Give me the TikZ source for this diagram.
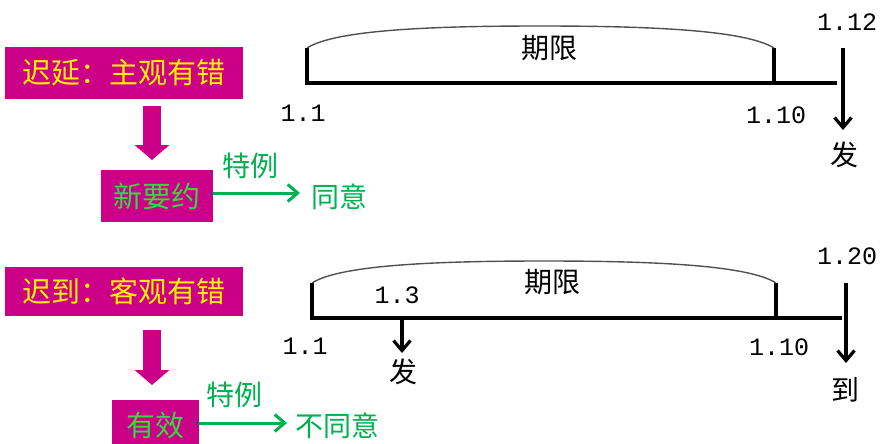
\documentclass[tikz,border=0pt]{standalone}
\usepackage{fontspec}
\newfontfamily\cjk{Noto Sans CJK SC}
\newfontfamily\mono{Liberation Mono}
\usetikzlibrary{arrows.meta}
\definecolor{mag}{RGB}{204,0,136}
\definecolor{yel}{RGB}{255,240,0}
\definecolor{boxgreen}{RGB}{50,220,60}
\definecolor{grn}{RGB}{0,176,80}
\definecolor{arcgray}{RGB}{80,80,80}
\tikzset{
  magbox/.style={fill=mag, draw=none, inner sep=0pt, font=\cjk\fontsize{29}{30}\selectfont},
  magarrow/.style={draw=mag, line width=18pt, -{Triangle[width=34pt,length=15pt]}},
  garrow/.style={draw=grn, line width=3pt, -{Straight Barb[length=10pt,width=17pt,line width=3pt]}},
  barrow/.style={draw=black, line width=3.2pt, -{Straight Barb[length=10pt,width=17pt,line width=3.2pt]}},
  axis/.style={draw=black, line width=3.2pt},
  arcline/.style={draw=arcgray, line width=1.4pt},
  glabel/.style={text=grn, inner sep=0pt, font=\cjk\fontsize{28}{30}\selectfont},
  clabel/.style={text=black, inner sep=0pt, font=\cjk\fontsize{28}{30}\selectfont},
  num/.style={text=black, inner sep=0pt, font=\mono\fontsize{25}{26}\selectfont},
}
\begin{document}
\begin{tikzpicture}[x=1pt,y=-1pt]
\useasboundingbox[fill=white] (0,0) rectangle (880,444);

% ---------- top part ----------
\node[magbox, minimum width=238pt, minimum height=51pt, text=yel] (b1) at (124,73) {迟延：主观有错};
\node[magbox, minimum width=112pt, minimum height=52pt, text=boxgreen] (b2) at (157,196) {新要约};
\coordinate (a1s) at (152,106);
\coordinate (a1e) at (152,160);
\draw[magarrow] (a1s) -- (a1e);
\coordinate (g1) at (300,193);
\draw[garrow] (b2.east |- g1) -- (g1);
\node[glabel] (t1) at (250,166) {特例};
\node[glabel] (s1) at (339,197) {同意};

% timeline top
\coordinate (L1t) at (307,48);
\coordinate (L1b) at (307,83);
\coordinate (R1t) at (774,48);
\coordinate (R1b) at (774,83);
\coordinate (E1) at (837,83);
\draw[axis] (L1t) -- (L1b) -- (E1);
\draw[axis] (R1t) -- (R1b);
\draw[arcline] (L1t) .. controls (335,30) and (430,26) .. (540,26) .. controls (650,26) and (745,30) .. (R1t);
\node[clabel] (q1) at (549,48) {期限};
\node[num] (n11) at (303,113) {1.1};
\node[num] (n110) at (776,115) {1.10};
\node[num] (n112) at (847,22) {1.12};
\coordinate (d1s) at (843,48);
\coordinate (d1e) at (843,130);
\draw[barrow] (d1s) -- (d1e);
\node[clabel] (f1) at (844,155) {发};

% ---------- bottom part ----------
\node[magbox, minimum width=238pt, minimum height=49pt, text=yel] (b3) at (124,291.5) {迟到：客观有错};
\node[magbox, minimum width=87pt, minimum height=52pt, text=boxgreen] (b4) at (155.5,426) {有效};
\coordinate (a2s) at (152,330);
\coordinate (a2e) at (152,385);
\draw[magarrow] (a2s) -- (a2e);
\coordinate (g2) at (287,423);
\draw[garrow] (b4.east |- g2) -- (g2);
\node[glabel] (t2) at (234,395) {特例};
\node[glabel] (s2) at (337,426) {不同意};

% timeline bottom
\coordinate (L2t) at (312,283);
\coordinate (L2b) at (312,318);
\coordinate (R2t) at (776,283);
\coordinate (R2b) at (776,318);
\coordinate (E2) at (842,318);
\draw[axis] (L2t) -- (L2b) -- (E2);
\draw[axis] (R2t) -- (R2b);
\draw[arcline] (L2t) .. controls (340,265) and (435,261) .. (544,261) .. controls (653,261) and (748,265) .. (R2t);
\node[clabel] (q2) at (552,282) {期限};
\node[num] (n13) at (397,295) {1.3};
\node[num] (n21) at (305,346) {1.1};
\node[num] (n210) at (779,347) {1.10};
\node[num] (n120) at (847,256) {1.20};
\coordinate (d2s) at (402,318);
\coordinate (d2e) at (402,353);
\draw[barrow] (d2s) -- (d2e);
\node[clabel] (f2) at (403,372) {发};
\coordinate (d3s) at (846,283);
\coordinate (d3e) at (846,363);
\draw[barrow] (d3s) -- (d3e);
\node[clabel] (f3) at (845,390) {到};
\end{tikzpicture}
\end{document}
